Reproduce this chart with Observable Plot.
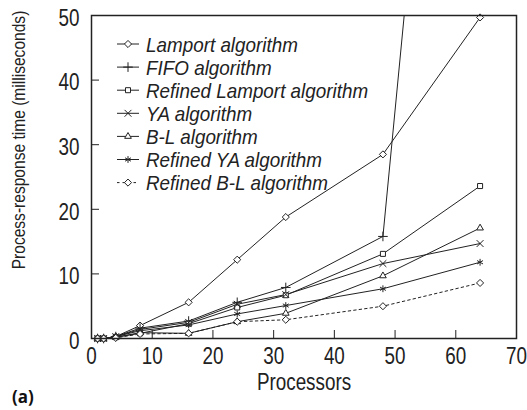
<!DOCTYPE html>
<html>
<head>
<meta charset="utf-8">
<script src="https://cdn.jsdelivr.net/npm/d3@7"></script>
<script src="https://cdn.jsdelivr.net/npm/@observablehq/plot@0.6"></script>
<style>
  html, body { margin: 0; padding: 0; background: #fff; }
  #chart svg { display: block; }
</style>
</head>
<body>
<div id="chart"></div>
<script>
const processors = [1, 2, 4, 8, 16, 24, 32, 48, 64];
const lamport        = [0, 0, 0.3, 2.0, 5.6, 12.2, 18.8, 28.5, 49.7];
const fifo           = [0, 0, 0.3, 1.6, 2.7, 5.6, 7.9, 15.8, 172];
const refinedLamport = [0, 0, 0.2, 0.8, 2.3, 4.8, 6.7, 13.1, 23.6];
const ya             = [0, 0, 0.3, 1.4, 2.5, 5.3, 6.8, 11.6, 14.7];
const bl             = [0, 0, 0.2, 0.9, 0.8, 2.6, 3.9, 9.7, 17.1];
const refinedYA      = [0, 0, 0.3, 1.2, 2.1, 3.8, 5.1, 7.7, 11.8];
const refinedBL      = [0, 0, 0.1, 0.7, 0.8, 2.6, 2.9, 5.0, 8.6];

const seriesNames = ["Lamport algorithm", "FIFO algorithm", "Refined Lamport algorithm", "YA algorithm", "B-L algorithm", "Refined YA algorithm", "Refined B-L algorithm"];
const seriesValues = [lamport, fifo, refinedLamport, ya, bl, refinedYA, refinedBL];
const seriesSymbols = ["diamond2", "plus", "square2", "times", "triangle2", "asterisk", "diamond2"];
const seriesDash = [null, null, null, null, null, null, "2.5,3"];

const xTicks = [0, 10, 20, 30, 40, 50, 60, 70];
const yTicks = [0, 10, 20, 30, 40, 50];
const xLabel = "Processors";
const yLabel = "Process-response time (milliseconds)";
const panelLabel = "(a)";

const W = 527, H = 410;
const mL = 91, mR = 11, mT = 15, mB = 72;
const ink = "#222";
const FONT = "'Liberation Sans', Arial, sans-serif";
const NARROW = 0.82;

const rows = [];
seriesNames.forEach((name, s) => {
  processors.forEach((p, i) => rows.push({series: name, s, x: p, y: seriesValues[s][i]}));
});

const marks = [];
seriesNames.forEach((name, s) => {
  const data = rows.filter(d => d.s === s);
  marks.push(Plot.line(data, {x: "x", y: "y", stroke: ink, strokeWidth: 1, strokeDasharray: seriesDash[s], clip: true}));
});
seriesNames.forEach((name, s) => {
  const data = rows.filter(d => d.s === s && d.y <= 50);
  marks.push(Plot.dot(data, {x: "x", y: "y", symbol: () => seriesSymbols[s], r: 3.2, stroke: ink, strokeWidth: 1, fill: "white"}));
});

const plotW = W - mL - mR, plotH = H - mT - mB;

const chart = Plot.plot({
  width: W, height: H,
  marginLeft: mL, marginRight: mR, marginTop: mT, marginBottom: mB,
  style: {fontFamily: FONT, background: "white", color: ink},
  x: {domain: [0, 70], ticks: xTicks},
  y: {domain: [0, 50], ticks: yTicks},
  symbol: {type: "identity"},
  marks: [
    ...marks,
    Plot.tickY(yTicks.filter(v => v > 0 && v < 50), {y: d => d, stroke: ink, strokeWidth: 1, insetRight: plotW - 8}),
    Plot.tickX(xTicks.filter(v => v > 0 && v < 70), {x: d => d, stroke: ink, strokeWidth: 1, insetTop: plotH - 8}),
    Plot.axisY({ticks: yTicks, tickSize: 0, tickPadding: 12, fontSize: 23, label: null, dy: 3}),
    Plot.axisX({ticks: xTicks, tickSize: 0, tickPadding: 9, fontSize: 23, label: null}),
    Plot.frame({stroke: ink, strokeWidth: 1.5})
  ]
});

document.getElementById("chart").appendChild(chart);

const svg = d3.select(chart);
// condense tick labels horizontally (condensed typeface look)
svg.selectAll("g[aria-label$='tick label'] text").each(function() {
  const t = this.getAttribute("transform") || "";
  this.setAttribute("transform", `${t} scale(${NARROW},1)`);
});

// axis labels
svg.append("text")
  .attr("transform", `translate(25,140) rotate(-90) scale(${NARROW},1)`)
  .attr("text-anchor", "middle")
  .attr("font-family", FONT).attr("font-size", 19).attr("fill", ink)
  .text(yLabel);
svg.append("text")
  .attr("transform", `translate(304,390) scale(${NARROW},1)`)
  .attr("text-anchor", "middle")
  .attr("font-family", FONT).attr("font-size", 23).attr("fill", ink)
  .text(xLabel);
svg.append("text")
  .attr("x", 12).attr("y", 403)
  .attr("text-anchor", "start")
  .attr("font-family", "'Open Sans', sans-serif").attr("font-weight", "bold").attr("font-size", 17).attr("fill", "#111")
  .text(panelLabel);

// legend
const lg = svg.append("g");
const symGen = {
  diamond2: d3.symbolDiamond2, plus: d3.symbolPlus, square2: d3.symbolSquare2,
  times: d3.symbolTimes, triangle2: d3.symbolTriangle2, asterisk: d3.symbolAsterisk
};
seriesNames.forEach((name, s) => {
  const cy = 44 + s * 23.1;
  lg.append("line").attr("x1", 117).attr("x2", 139).attr("y1", cy).attr("y2", cy)
    .attr("stroke", ink).attr("stroke-width", 1).attr("stroke-dasharray", seriesDash[s]);
  lg.append("path").attr("transform", `translate(128,${cy})`)
    .attr("d", d3.symbol(symGen[seriesSymbols[s]], Math.PI * 3.2 * 3.2)())
    .attr("stroke", ink).attr("fill", "white").attr("stroke-width", 1);
  lg.append("text")
    .attr("transform", `translate(146,${cy + 7.5}) scale(0.92,1)`)
    .attr("text-anchor", "start")
    .attr("font-family", FONT).attr("font-style", "italic").attr("font-size", 20.5).attr("fill", ink)
    .text(name);
});
</script>
</body>
</html>
